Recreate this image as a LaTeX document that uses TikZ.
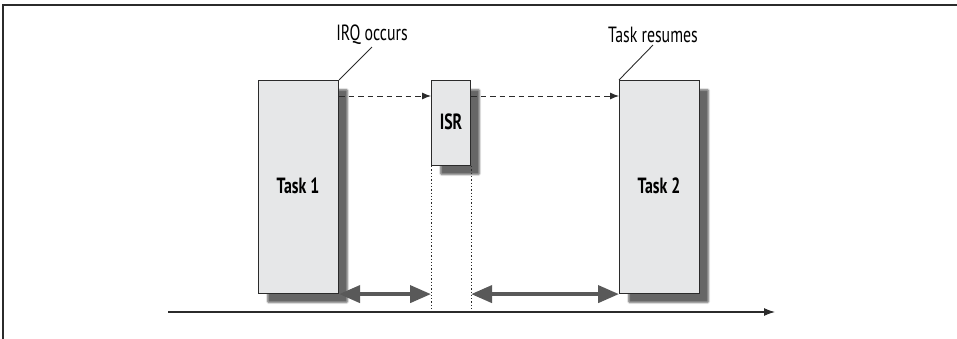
\documentclass[tikz,border=0pt]{standalone}
\usepackage{fontspec}
\newfontfamily\diafont{PT Sans}[FakeStretch=0.72]
\usepackage{tikz}
\usetikzlibrary{positioning,arrows.meta,shadows.blur}
\definecolor{ivfill}{HTML}{E6E7E8}
\definecolor{ivline}{HTML}{2B2B2B}
\definecolor{ivspan}{HTML}{595959}

\begin{document}
\begin{tikzpicture}[
  x=1pt, y=-1pt,
  font=\diafont\fontsize{22}{24}\selectfont,
  taskbox/.style={draw=ivline, fill=ivfill, line width=1.1pt, anchor=north west,
                  blur shadow={shadow xshift=9pt, shadow yshift=-9pt,
                               shadow blur steps=6, shadow blur extra rounding=1pt,
                               shadow opacity=60}},
  boxlabel/.style={font=\diafont\bfseries\fontsize{22}{24}\selectfont},
  callout/.style={inner sep=1pt},
  dasharr/.style={-{Latex[length=9pt,width=7pt]}, dash pattern=on 5.5pt off 4pt, line width=0.9pt, ivline},
  dotline/.style={dash pattern=on 1.3pt off 2pt, line width=1pt, ivline},
  spanarr/.style={{Triangle[length=21pt,width=17pt]}-{Triangle[length=21pt,width=17pt]}, line width=4pt, ivspan},
  lead/.style={line width=0.9pt, ivline}
]
\useasboundingbox (0,0) rectangle (957,339);
\draw[line width=1.5pt, ivline] (3,339) -- (3,5) -- (957,5);

% boxes
\node[taskbox, minimum width=80pt, minimum height=213pt] (t1) at (258,80) {};
\node[taskbox, minimum width=39pt, minimum height=85pt] (isr) at (431,80) {};
\node[taskbox, minimum width=80pt, minimum height=213pt] (t2) at (619,80) {};
\node[boxlabel] (t1lbl) at (298,186) {Task 1};
\node[boxlabel] (isrlbl) at (451,122) {ISR};
\node[boxlabel] (t2lbl) at (659,186) {Task 2};

% time axis
\coordinate (axl) at (168,312);
\coordinate (axr) at (775,312);
\draw[-{Latex[length=11pt,width=8pt]}, line width=1.1pt, ivline] (axl) -- (axr);

% callouts
\node[callout] (irq) at (372,35) {IRQ occurs};
\node[callout] (res) at (653,35) {Task resumes};
\draw[lead] (t1.north east) -- ([yshift=-1pt]irq.south);
\draw[lead] (t2.north west) -- ([yshift=-1pt]res.south);

% switches
\draw[dasharr] ([yshift=-16pt]t1.north east) -- ([yshift=-16pt]isr.north west);
\draw[dasharr] ([yshift=-16pt]isr.north east) -- ([yshift=-16pt]t2.north west);
\draw[dotline] (isr.south west) -- (isr.south west |- axl);
\draw[dotline] (isr.south east) -- (isr.south east |- axl);

% latency spans
\draw[spanarr] (t1.south east) -- (isr.south west |- t1.south east);
\draw[spanarr] (isr.south east |- t2.south west) -- (t2.south west);
\end{tikzpicture}
\end{document}
